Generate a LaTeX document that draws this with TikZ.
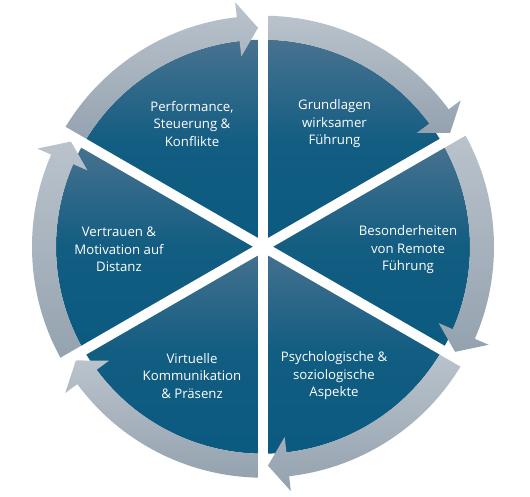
\documentclass[tikz,border=0pt]{standalone}
\usepackage{fontspec}
\setmainfont{Open Sans}
\usepackage{tikz}
\usetikzlibrary{calc}
\definecolor{segtop}{HTML}{48728F}
\definecolor{segbottom}{HTML}{0B5A80}
\definecolor{ringtop}{HTML}{BAC3CC}
\definecolor{ringbottom}{HTML}{94A2AF}
\tikzstyle{segment} = [top color=segtop, bottom color=segbottom, middle color=segbottom!88!segtop]
\tikzstyle{ringarrow} = [top color=ringtop, bottom color=ringbottom]
\tikzstyle{gap} = [draw=white, line width=10pt]
\tikzstyle{topic} = [text=white, align=center, font=\fontsize{13.2}{17.5}\selectfont]

\begin{document}
\begin{tikzpicture}[x=1pt, y=1pt]
    \useasboundingbox (-263,-250.3) rectangle (267,246.7);
    \coordinate (c) at (0,0);

    % Segmente
    \shade[segment] (c) -- (90:207) arc[start angle=90, end angle=30, radius=207] -- cycle;
    \shade[segment] (c) -- (30:207) arc[start angle=30, end angle=-30, radius=207] -- cycle;
    \shade[segment] (c) -- (-30:207) arc[start angle=-30, end angle=-90, radius=207] -- cycle;
    \shade[segment] (c) -- (-90:207) arc[start angle=-90, end angle=-150, radius=207] -- cycle;
    \shade[segment] (c) -- (210:207) arc[start angle=210, end angle=150, radius=207] -- cycle;
    \shade[segment] (c) -- (150:207) arc[start angle=150, end angle=90, radius=207] -- cycle;

    % Pfeile im Ring
    \shade[ringarrow] (90:207) arc[start angle=90, end angle=36.5, radius=207] -- (36.5:191.5) -- (31.3:219) -- (36.5:246) -- (36.5:231) arc[start angle=36.5, end angle=90, radius=231] -- cycle;
    \shade[ringarrow] (30:207) arc[start angle=30, end angle=-23.5, radius=207] -- (-23.5:191.5) -- (-28.7:219) -- (-23.5:246) -- (-23.5:231) arc[start angle=-23.5, end angle=30, radius=231] -- cycle;
    \shade[ringarrow] (-30:207) arc[start angle=-30, end angle=-83.5, radius=207] -- (-83.5:191.5) -- (-88.7:219) -- (-83.5:246) -- (-83.5:231) arc[start angle=-83.5, end angle=-30, radius=231] -- cycle;
    \shade[ringarrow] (-90:207) arc[start angle=-90, end angle=-143.5, radius=207] -- (-143.5:191.5) -- (-148.7:219) -- (-143.5:246) -- (-143.5:231) arc[start angle=-143.5, end angle=-90, radius=231] -- cycle;
    \shade[ringarrow] (210:207) arc[start angle=210, end angle=156.5, radius=207] -- (156.5:191.5) -- (151.3:219) -- (156.5:246) -- (156.5:231) arc[start angle=156.5, end angle=210, radius=231] -- cycle;
    \shade[ringarrow] (150:207) arc[start angle=150, end angle=96.5, radius=207] -- (96.5:191.5) -- (91.3:219) -- (96.5:246) -- (96.5:231) arc[start angle=96.5, end angle=150, radius=231] -- cycle;

    % Trennfugen
    \draw[gap] (90:250) -- (-90:250);
    \draw[gap] (30:250) -- (210:250);
    \draw[gap] (150:250) -- (-30:250);

    % Texte
    \node (grund) [topic] at (71.5,123) {Grundlagen\\wirksamer\\Führung};
    \node (remote) [topic] at (145,-3) {Besonderheiten\\von Remote\\Führung};
    \node (psych) [topic] at (71,-129) {Psychologische \&\\soziologische\\Aspekte};
    \node (virt) [topic] at (-71,-129) {Virtuelle\\Kommunikation\\\& Präsenz};
    \node (vertr) [topic] at (-144,-3) {Vertrauen \&\\Motivation auf\\Distanz};
    \node (perf) [topic] at (-71,123) {Performance,\\Steuerung \&\\Konflikte};
\end{tikzpicture}
\end{document}
